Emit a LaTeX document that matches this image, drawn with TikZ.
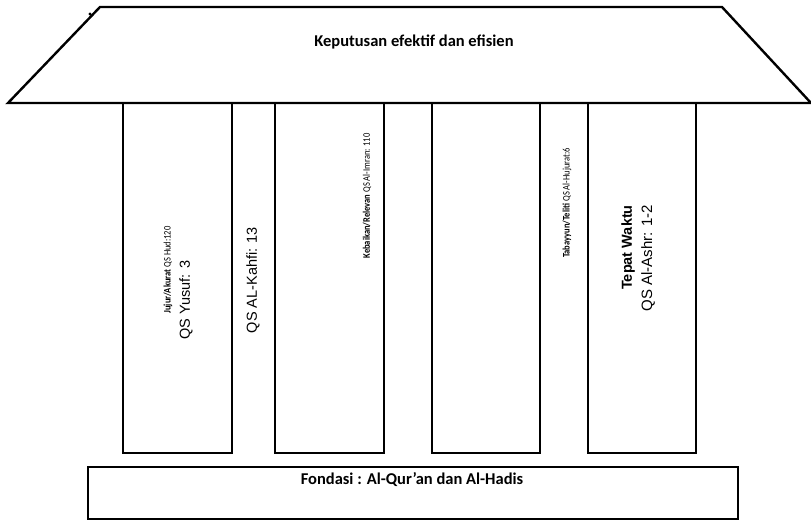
\documentclass[tikz,border=0pt]{standalone}
\usepackage{fontspec}
\newfontfamily\carlito{Carlito}
\newfontfamily\arial{Liberation Sans}
\usetikzlibrary{positioning}
\tikzset{
  garis/.style={line width=2.4pt, line join=miter},
  judul/.style={font=\carlito\bfseries\fontsize{16.5}{19}\selectfont, inner sep=0pt},
  ayat/.style={font=\arial\fontsize{14.5}{17}\selectfont, rotate=90, inner sep=0pt},
  kecil/.style={font=\carlito\fontsize{10}{11}\selectfont, rotate=90, inner sep=0pt, xscale=0.85}
}

\begin{document}
\begin{tikzpicture}[x=1pt, y=-1pt]
  \useasboundingbox (0,0) rectangle (811,522);
  % atap
  \coordinate (atapKiri) at (8,103);
  \coordinate (atapKanan) at (811,103);
  \draw[garis] (atapKiri) -- (100,7) -- (722,7) -- (atapKanan) -- cycle;
  \fill (90,14) circle (1.6pt);
  \node[judul] (keputusan) at (414,42) {Keputusan efektif dan efisien};

  % tiang
  \foreach \a/\b in {123/232, 275/384, 432/540, 588/696}
    \draw[garis] (\a,103) -- (\a,453) -- (\b,453) -- (\b,103);

  % teks tiang
  \node[kecil] (jujur) at (168,270) {\textbf{Jujur/Akurat} QS Hud:120};
  \node[ayat] (yusuf) at (186,300) {QS Yusuf: 3};
  \node[ayat] (kahfi) at (253,280) {QS AL-Kahfi: 13};
  \node[kecil] (kebaikan) at (367,196) {\textbf{Kebaikan/Relevan} QS Al-Imran: 110};
  \node[kecil] (tabayyun) at (567,203) {\textbf{Tabayyun/Teliti} QS Al-Hujurat:6};
  \node[ayat, font=\arial\bfseries\fontsize{14.5}{17}\selectfont, anchor=east] (tepat) at (628,205) {Tepat Waktu};
  \node[ayat, anchor=east, font=\arial\fontsize{15}{17}\selectfont] (ashr) at (648,205) {QS Al-Ashr: 1-2};

  % fondasi
  \draw[garis] (88,467) rectangle (738,519);
  \node[judul] (fondasi) at (412,480) {Fondasi : Al-Qur’an dan Al-Hadis};
\end{tikzpicture}
\end{document}
